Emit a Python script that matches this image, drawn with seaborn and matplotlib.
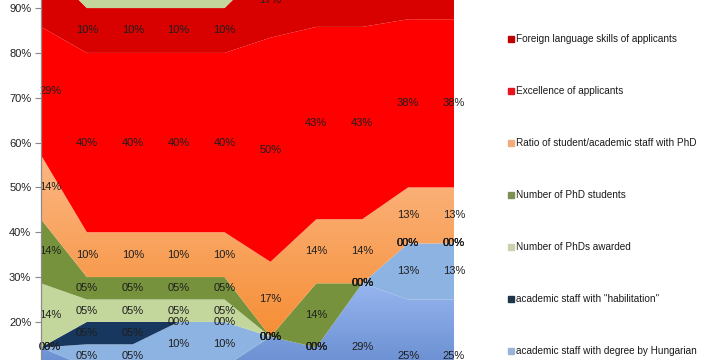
import numpy as np
import matplotlib
matplotlib.use('Agg')
import matplotlib.pyplot as plt
import matplotlib.colors as mcolors
from matplotlib.lines import Line2D
import seaborn as sns

sns.set_theme(style='white')
plt.rcParams['font.family'] = ['Liberation Sans', 'DejaVu Sans']

# --- data (shares in %, one value per category, stacked bottom -> top) ---
categories = list(range(10))

bottom_blue  = [14.3, 10, 10, 10, 10, 16.7, 14.3, 28.6, 25, 25]
hungarian    = [0, 5, 5, 10, 10, 0, 0, 0, 12.5, 12.5]
habilitation = [0, 5, 5, 0, 0, 0, 0, 0, 0, 0]
phds_awarded = [14.3, 5, 5, 5, 5, 0, 0, 0, 0, 0]
phd_students = [14.3, 5, 5, 5, 5, 0, 14.3, 0, 0, 0]
ratio_phd    = [14.3, 10, 10, 10, 10, 16.7, 14.3, 14.3, 12.5, 12.5]
excellence   = [28.6, 40, 40, 40, 40, 50, 42.9, 42.9, 37.5, 37.5]
foreign_lang = [14.3, 10, 10, 10, 10, 16.7, 14.3, 14.3, 12.5, 12.5]
top_green    = [0, 10, 10, 10, 10, 0, 0, 0, 0, 0]

series = [
    (None, bottom_blue, ('#5d84c8', '#9ab8f2')),
    ('academic staff with degree by Hungarian', hungarian, '#8cb3e2'),
    ('academic staff with "habilitation"', habilitation, '#17375e'),
    ('Number of PhDs awarded', phds_awarded, '#c3d69b'),
    ('Number of PhD students', phd_students, '#76923c'),
    ('Ratio of student/academic staff with PhD', ratio_phd, ('#f5892c', '#fcba8a')),
    ('Excellence of applicants', excellence, '#ff0000'),
    ('Foreign language skills of applicants', foreign_lang, '#d90000'),
    (None, top_green, '#c3d69b'),
]
legend_colors = {
    'Foreign language skills of applicants': '#c00000',
    'Excellence of applicants': '#e8141c',
    'Ratio of student/academic staff with PhD': '#f2ab7a',
    'Number of PhD students': '#7d8f55',
    'Number of PhDs awarded': '#c8d3ae',
    'academic staff with "habilitation"': '#1f3448',
    'academic staff with degree by Hungarian': '#98b4d8',
}

x = np.array(categories, dtype=float)

fig = plt.figure(figsize=(7.2, 3.6), dpi=100)
ax = fig.add_axes([41 / 720, 0, 413 / 720, 1])


def grad_fill(ax, x, lo, hi, c_bot, c_top, v_bot, v_top):
    poly = ax.fill_between(x, lo, hi, facecolor='none', edgecolor='none', lw=0)
    cols = np.linspace(np.array(mcolors.to_rgb(c_bot)), np.array(mcolors.to_rgb(c_top)), 256)[:, None, :]
    im = ax.imshow(cols, extent=[x[0], x[-1], v_bot, v_top], origin='lower',
                   aspect='auto', interpolation='bilinear', zorder=1)
    im.set_clip_path(poly.get_paths()[0], transform=ax.transData)


base = np.zeros(len(x))
label_items = []
for name, vals, color in series:
    vals = np.array(vals, dtype=float)
    top = base + vals
    if isinstance(color, tuple):
        if name is None:
            grad_fill(ax, x, base, top, color[0], color[1], 5, 30)
        else:
            grad_fill(ax, x, base, top, color[0], color[1], 12, 60)
    else:
        ax.fill_between(x, base, top, facecolor=color, edgecolor='none', lw=0, zorder=1)
    for i in range(len(x)):
        label_items.append((x[i], base[i] + vals[i] / 2, vals[i]))
    base = top

for xi, yi, v in label_items:
    dx = 0.2 if xi == 0 else 0
    ax.text(xi + dx, yi, f'{int(np.floor(v + 0.5)):02d}%', fontsize=8, color='#1e1e1e',
            ha='center', va='center', zorder=3, clip_on=False)

ax.set_xlim(0, 9)
ax.set_ylim(11.5, 91.8)
ax.set_xticks([])
ax.set_yticks(range(20, 100, 10))
ax.set_yticklabels([f'{t}%' for t in range(20, 100, 10)], fontsize=8, color='#222222')
ax.tick_params(axis='y', left=True, length=4, width=0.8, color='#888888', pad=3)
for s in ['top', 'right', 'bottom']:
    ax.spines[s].set_visible(False)
ax.spines['left'].set_color('#8c8c8c')
ax.spines['left'].set_linewidth(0.9)
ax.spines['left'].set_zorder(4)

handles = [Line2D([0], [0], marker='s', ls='none', markersize=4, color=legend_colors[n],
                  label=n) for n, _, _ in reversed(series) if n is not None]
fig.legend(handles=handles, loc='upper left', bbox_to_anchor=(503 / 720, 1 - 29 / 360),
           frameon=False, fontsize=7.2, handlelength=0.6, handletextpad=0.25,
           labelspacing=4.2, borderpad=0, labelcolor='#1a1a1a')

fig.savefig('out.png', dpi=100)
